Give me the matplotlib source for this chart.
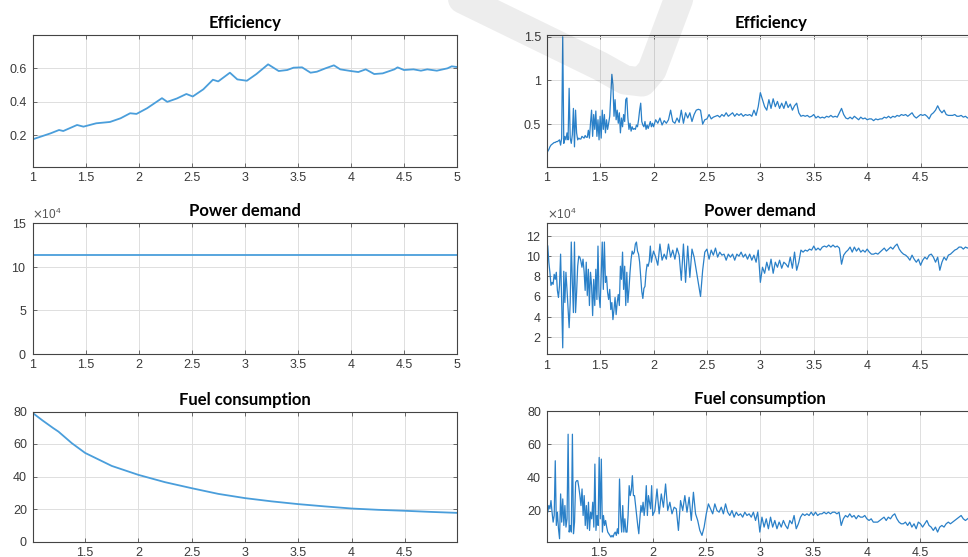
import numpy as np
import matplotlib
matplotlib.use("Agg")

import matplotlib.pyplot as plt
from matplotlib.ticker import ScalarFormatter, FuncFormatter
from matplotlib.lines import Line2D

# ---- data ----
# left column (smooth runs)
eff_left_x = [1.00, 1.17, 1.25, 1.29, 1.42, 1.48, 1.60, 1.73, 1.83, 1.92, 1.98, 2.08,
              2.22, 2.27, 2.36, 2.45, 2.51, 2.61, 2.70, 2.75, 2.86, 2.93, 3.02, 3.11,
              3.22, 3.32, 3.40, 3.46, 3.54, 3.62, 3.68, 3.76, 3.84, 3.90, 4.00, 4.07,
              4.14, 4.22, 4.30, 4.41, 4.44, 4.50, 4.59, 4.66, 4.72, 4.81, 4.91, 4.95, 5.00]
eff_left = [0.174, 0.21, 0.23, 0.224, 0.26, 0.25, 0.27, 0.278, 0.30, 0.33, 0.326, 0.36,
            0.42, 0.398, 0.418, 0.445, 0.43, 0.473, 0.53, 0.52, 0.572, 0.532, 0.524, 0.564,
            0.622, 0.582, 0.588, 0.602, 0.604, 0.572, 0.578, 0.598, 0.616, 0.592, 0.582, 0.576,
            0.592, 0.564, 0.568, 0.592, 0.604, 0.588, 0.592, 0.584, 0.592, 0.584, 0.598, 0.61, 0.606]

power_left_x = [1.0, 2.0, 3.0, 4.0, 5.0]
power_left = [113000, 113000, 113000, 113000, 113000]

fuel_left_x = [1.0, 1.1, 1.2, 1.25, 1.375, 1.5, 1.75, 2.0, 2.25, 2.5, 2.75, 3.0, 3.25,
               3.5, 3.75, 4.0, 4.25, 4.5, 4.75, 5.0]
fuel_left = [79.5, 74.5, 69.8, 67.6, 60.5, 54.5, 46.5, 41.0, 36.5, 32.8, 29.3, 26.7, 24.7,
             23.0, 21.6, 20.3, 19.5, 18.9, 18.2, 17.6]

# right column (noisy runs): samples every 0.01 up to 2, then every 0.02
right_x = np.concatenate([np.arange(100, 201) / 100.0, np.arange(202, 497, 2) / 100.0])

eff_right = [
    0.16, 0.19, 0.21, 0.24, 0.26, 0.27, 0.28, 0.29, 0.29, 0.30,
    0.30, 0.31, 0.32, 0.26, 0.34, 1.50, 0.28, 0.36, 0.32, 0.40,
    0.32, 0.91, 0.34, 0.28, 0.38, 0.68, 0.24, 0.66, 0.40, 0.32,
    0.34, 0.33, 0.33, 0.36, 0.35, 0.34, 0.37, 0.35, 0.35, 0.43,
    0.34, 0.51, 0.66, 0.36, 0.61, 0.44, 0.65, 0.36, 0.55, 0.32,
    0.59, 0.34, 0.66, 0.44, 0.61, 0.40, 0.55, 0.44, 0.51, 0.59,
    0.82, 1.07, 0.95, 0.59, 0.78, 0.55, 0.66, 0.51, 0.63, 0.40,
    0.57, 0.47, 0.61, 0.53, 0.78, 0.80, 0.57, 0.44, 0.51, 0.42,
    0.47, 0.44, 0.45, 0.44, 0.49, 0.47, 0.55, 0.66, 0.74, 0.53,
    0.49, 0.47, 0.53, 0.44, 0.49, 0.45, 0.49, 0.53, 0.47, 0.51,
    0.47,
    0.55, 0.51, 0.57, 0.49, 0.54, 0.51, 0.55, 0.66, 0.53, 0.51,
    0.57, 0.52, 0.66, 0.51, 0.63, 0.57, 0.63, 0.53, 0.61, 0.66,
    0.67, 0.66, 0.50, 0.55, 0.56, 0.61, 0.56, 0.58, 0.59, 0.60,
    0.58, 0.61, 0.59, 0.63, 0.59, 0.61, 0.63, 0.59, 0.62, 0.60,
    0.62, 0.59, 0.61, 0.60, 0.61, 0.59, 0.66, 0.60, 0.70, 0.86,
    0.78, 0.70, 0.66, 0.78, 0.68, 0.79, 0.70, 0.76, 0.68, 0.74,
    0.68, 0.76, 0.69, 0.73, 0.66, 0.71, 0.74, 0.63, 0.59, 0.60,
    0.59, 0.60, 0.58, 0.59, 0.61, 0.57, 0.59, 0.57, 0.58, 0.57,
    0.59, 0.58, 0.60, 0.58, 0.59, 0.58, 0.63, 0.68, 0.61, 0.57,
    0.56, 0.58, 0.56, 0.59, 0.57, 0.55, 0.58, 0.56, 0.57, 0.55,
    0.56, 0.56, 0.54, 0.56, 0.55, 0.56, 0.56, 0.58, 0.57, 0.59,
    0.57, 0.59, 0.58, 0.60, 0.59, 0.61, 0.60, 0.61, 0.59, 0.61,
    0.63, 0.59, 0.57, 0.59, 0.61, 0.60, 0.61, 0.59, 0.56, 0.61,
    0.63, 0.66, 0.71, 0.66, 0.63, 0.66, 0.61, 0.60, 0.60, 0.60,
    0.61, 0.59, 0.59, 0.60, 0.58, 0.59, 0.57, 0.58]

# power demand, in units of 1e4
power_right_1e4 = [
    11.3, 11.0, 9.4, 8.4, 7.1, 7.4, 7.2, 8.2, 7.7, 8.4,
    6.6, 5.9, 7.1, 10.2, 5.7, 0.9, 8.5, 5.4, 8.4, 6.7,
    4.7, 2.9, 5.4, 11.4, 7.4, 4.4, 11.4, 4.4, 6.4, 9.0,
    10.0, 9.9, 9.5, 8.9, 9.7, 8.5, 6.6, 9.4, 6.1, 8.7,
    5.1, 8.4, 7.1, 4.1, 7.7, 5.1, 8.7, 5.7, 11.0, 6.1,
    4.9, 8.0, 11.4, 6.7, 11.4, 7.4, 8.0, 6.4, 5.7, 6.7,
    4.7, 5.4, 3.7, 4.7, 5.9, 4.2, 5.4, 6.2, 5.1, 9.0,
    7.7, 10.4, 6.7, 9.0, 5.1, 8.4, 5.4, 6.7, 8.4, 9.7,
    10.5, 10.2, 10.4, 11.2, 11.4, 10.5, 10.2, 9.4, 8.0, 6.5,
    5.8, 6.8, 7.0, 8.4, 9.2, 9.0, 9.5, 11.0, 9.4, 10.0,
    10.5,
    9.9, 9.1, 11.2, 9.6, 10.2, 9.7, 11.2, 9.9, 10.6, 9.7,
    10.8, 10.1, 7.6, 11.2, 7.4, 11.0, 7.9, 10.7, 9.9, 8.6,
    7.3, 6.0, 8.6, 10.4, 10.7, 9.7, 10.6, 10.1, 10.8, 9.9,
    10.4, 10.1, 10.2, 9.6, 10.2, 9.9, 10.2, 9.6, 10.2, 10.0,
    10.4, 9.9, 10.2, 9.7, 10.2, 9.6, 10.1, 9.4, 10.6, 7.4,
    8.9, 8.3, 9.4, 8.6, 9.7, 8.3, 9.4, 8.9, 9.6, 8.8,
    9.4, 9.2, 8.9, 9.9, 8.8, 10.4, 8.6, 9.4, 10.6, 10.4,
    10.6, 10.5, 10.7, 10.6, 11.0, 10.6, 10.8, 10.6, 10.9, 11.0,
    10.9, 11.1, 10.9, 11.1, 10.9, 11.0, 10.8, 9.2, 10.1, 10.4,
    10.6, 10.9, 10.4, 10.9, 10.5, 10.8, 10.4, 10.6, 10.4, 10.7,
    10.4, 10.2, 10.2, 10.3, 10.2, 10.4, 10.6, 10.8, 10.5, 10.7,
    10.9, 10.7, 11.0, 11.2, 10.7, 10.4, 10.2, 10.1, 9.9, 9.6,
    10.1, 9.7, 9.4, 9.7, 9.1, 9.6, 9.9, 9.7, 10.1, 10.2,
    9.9, 9.4, 9.9, 8.6, 9.4, 9.9, 9.6, 10.1, 10.2, 10.4,
    10.6, 10.7, 10.9, 10.9, 10.7, 10.9, 10.8, 10.9]

fuel_right = [
    32, 23, 19, 23, 21, 26, 19, 13, 17, 50,
    11, 19, 9, 3, 30, 13, 27, 11, 23, 10,
    15, 66, 7, 11, 7, 66, 6, 13, 37, 38,
    38, 34, 29, 23, 33, 17, 29, 11, 23, 9,
    25, 8, 19, 15, 25, 10, 48, 8, 17, 11,
    52, 15, 51, 7, 17, 11, 14, 10, 7, 6,
    5, 4, 5, 4, 6, 7, 5, 9, 6, 39,
    17, 7, 23, 7, 15, 7, 7, 17, 35, 29,
    32, 41, 29, 29, 23, 17, 11, 6, 15, 23,
    19, 25, 17, 23, 35, 17, 29, 25, 21, 35,
    17,
    20, 33, 18, 30, 22, 36, 20, 25, 18, 22,
    21, 8, 26, 20, 29, 19, 28, 14, 31, 18,
    14, 8, 5, 10, 18, 24, 21, 18, 24, 20,
    19, 22, 18, 24, 19, 17, 20, 16, 19, 17,
    18, 16, 19, 17, 18, 16, 19, 14, 19, 7,
    16, 10, 15, 9, 16, 10, 14, 9, 13, 10,
    14, 11, 9, 14, 12, 17, 9, 12, 16, 18,
    17, 18, 17, 19, 17, 19, 17, 18, 18, 19,
    18, 19, 18, 19, 19, 18, 19, 11, 15, 17,
    16, 18, 16, 17, 15, 17, 16, 16, 17, 15,
    14, 15, 13, 13, 13, 14, 15, 16, 14, 16,
    15, 17, 18, 15, 13, 12, 12, 13, 11, 13,
    10, 12, 9, 13, 12, 10, 12, 14, 11, 10,
    8, 10, 7, 10, 11, 10, 12, 13, 12, 13,
    14, 15, 16, 17, 15, 14, 15, 16]

W, H = 968.0, 557.0


def px_box(left, top, right, bottom):
    # pixel box -> figure fraction [x0, y0, w, h]
    return [left / W, 1 - bottom / H, (right - left) / W, (bottom - top) / H]


def style(ax, xlim, ylim, xticks, yticks):
    ax.set_xlim(xlim)
    ax.set_ylim(ylim)
    ax.set_xticks(xticks)
    ax.set_yticks(yticks)
    ax.grid(True, color="#dedede", linewidth=0.7)
    ax.set_axisbelow(True)
    ax.tick_params(direction="in", length=3, width=0.6, top=True, right=True,
                   colors="#555555", labelcolor="#3a3a3a", labelsize=9, pad=4)
    for s in ax.spines.values():
        s.set_color("#444444")
        s.set_linewidth(0.8)


def sci4(ax):
    f = ScalarFormatter(useMathText=True, useOffset=False)
    f.set_powerlimits((4, 4))
    ax.yaxis.set_major_formatter(f)
    ax.yaxis.get_offset_text().set_fontsize(8.5)
    ax.yaxis.get_offset_text().set_color("#555555")


def main():
    plt.rcParams["font.family"] = ["Liberation Sans", "DejaVu Sans"]
    fig = plt.figure(figsize=(9.68, 5.57), dpi=100)
    gfmt = FuncFormatter(lambda v, p: "%g" % v)
    title_kw = dict(fontsize=12, fontweight="bold", family=["Lato", "DejaVu Sans"], pad=5)
    c_left = "#4a9edb"
    c_right = "#2a80c8"
    ticks_left = np.arange(1, 5.01, 0.5)
    ticks_right = np.arange(1, 4.51, 0.5)   # the 5 tick sits past the picture edge

    # left column
    ax = fig.add_axes(px_box(32.5, 35, 457, 166.7))
    ax.plot(eff_left_x, eff_left, color=c_left, lw=1.3)
    style(ax, (1, 5), (0.011, 0.797), ticks_left, [0.2, 0.4, 0.6])
    ax.xaxis.set_major_formatter(gfmt)
    ax.yaxis.set_major_formatter(gfmt)
    ax.set_title("Efficiency", **title_kw)

    ax = fig.add_axes(px_box(32.5, 223.3, 457, 353.7))
    ax.plot(power_left_x, power_left, color=c_left, lw=1.3)
    style(ax, (1, 5), (0, 150000), ticks_left, [0, 50000, 100000, 150000])
    ax.xaxis.set_major_formatter(gfmt)
    sci4(ax)
    ax.set_title("Power demand", **title_kw)

    ax = fig.add_axes(px_box(32.5, 411.5, 457, 541.5))
    ax.plot(fuel_left_x, fuel_left, color=c_left, lw=1.3)
    style(ax, (1.006, 4.99), (0, 80), np.arange(1.5, 4.51, 0.5), [0, 20, 40, 60, 80])
    ax.xaxis.set_major_formatter(gfmt)
    ax.set_title("Fuel consumption", **title_kw)

    # right column (runs past the right edge of the picture)
    ax = fig.add_axes(px_box(546.7, 35, 974, 166.7))
    ax.plot(right_x, eff_right, color=c_right, lw=0.9)
    style(ax, (1, 5), (0.013, 1.52), ticks_right, [0.5, 1, 1.5])
    ax.xaxis.set_major_formatter(gfmt)
    ax.yaxis.set_major_formatter(gfmt)
    ax.set_title("Efficiency", x=0.525, **title_kw)

    ax = fig.add_axes(px_box(546.7, 223.3, 974, 354))
    ax.plot(right_x, np.array(power_right_1e4) * 1e4, color=c_right, lw=0.9)
    style(ax, (1, 5), (2900, 132600), ticks_right,
          [20000, 40000, 60000, 80000, 100000, 120000])
    ax.xaxis.set_major_formatter(gfmt)
    sci4(ax)
    ax.set_title("Power demand", **title_kw)

    ax = fig.add_axes(px_box(546.7, 411, 974, 541.7))
    ax.plot(right_x, fuel_right, color=c_right, lw=0.9)
    style(ax, (1.01, 5), (1.2, 80), np.arange(1.5, 4.51, 0.5), [20, 40, 60, 80])
    ax.xaxis.set_major_formatter(gfmt)
    ax.set_title("Fuel consumption", **title_kw)

    # faint grey check-mark watermark over the upper middle
    mx = [440, 600, 625, 642, 652, 682]
    my = [-12, 66, 80, 82, 70, -10]
    fig.add_artist(Line2D([v / W for v in mx], [1 - v / H for v in my],
                          transform=fig.transFigure, color="black", alpha=0.07,
                          lw=21, solid_capstyle="round", solid_joinstyle="round",
                          zorder=10))

    fig.savefig("out.png", dpi=100)
    print("Graph created.")


if __name__ == "__main__":
    main()
